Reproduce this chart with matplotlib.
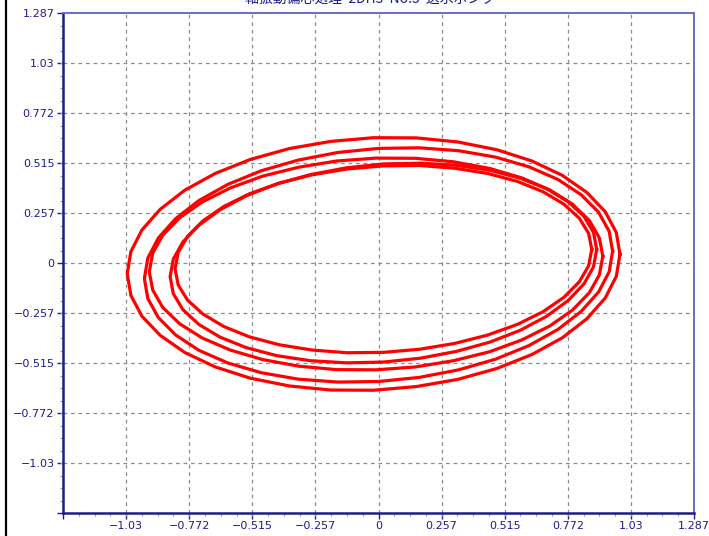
import numpy as np
import matplotlib
matplotlib.use("Agg")
import matplotlib.pyplot as plt
from matplotlib.ticker import FixedLocator

# orbit loops (x, y in the chart's units), 36 points each
loop1_x = [0.985, 0.970, 0.925, 0.850, 0.750, 0.626, 0.483, 0.324, 0.155, -0.020, -0.195, -0.364,
           -0.523, -0.666, -0.790, -0.890, -0.965, -1.010, -1.025, -1.010, -0.965, -0.890, -0.790,
           -0.666, -0.523, -0.364, -0.195, -0.020, 0.155, 0.324, 0.483, 0.626, 0.750, 0.850, 0.925, 0.970]
loop1_y = [0.045, 0.157, 0.264, 0.363, 0.451, 0.525, 0.583, 0.623, 0.644, 0.645, 0.626, 0.589,
           0.533, 0.461, 0.375, 0.277, 0.170, 0.059, -0.055, -0.167, -0.274, -0.373, -0.461,
           -0.535, -0.593, -0.633, -0.654, -0.655, -0.636, -0.599, -0.543, -0.471, -0.385, -0.287, -0.180, -0.069]

loop2_x = [0.955, 0.941, 0.898, 0.827, 0.732, 0.614, 0.478, 0.327, 0.166, 0.000, -0.166, -0.327,
           -0.478, -0.614, -0.732, -0.827, -0.898, -0.941, -0.955, -0.941, -0.898, -0.827, -0.732,
           -0.614, -0.478, -0.327, -0.166, 0.000, 0.166, 0.327, 0.478, 0.614, 0.732, 0.827, 0.898, 0.941]
loop2_y = [0.060, 0.163, 0.261, 0.351, 0.430, 0.495, 0.545, 0.578, 0.593, 0.590, 0.569, 0.530,
           0.475, 0.405, 0.322, 0.229, 0.129, 0.025, -0.080, -0.183, -0.281, -0.371, -0.450,
           -0.515, -0.565, -0.598, -0.613, -0.610, -0.589, -0.550, -0.495, -0.425, -0.342, -0.249, -0.149, -0.045]

loop3_x = [0.915, 0.901, 0.860, 0.791, 0.699, 0.585, 0.453, 0.306, 0.151, -0.010, -0.171, -0.326,
           -0.473, -0.605, -0.719, -0.811, -0.880, -0.921, -0.935, -0.921, -0.880, -0.811, -0.719,
           -0.605, -0.473, -0.326, -0.171, -0.010, 0.151, 0.306, 0.453, 0.585, 0.699, 0.791, 0.860, 0.901]
loop3_y = [0.035, 0.129, 0.219, 0.303, 0.376, 0.438, 0.487, 0.521, 0.539, 0.540, 0.525, 0.493,
           0.447, 0.386, 0.314, 0.233, 0.143, 0.051, -0.045, -0.139, -0.229, -0.313, -0.386,
           -0.448, -0.497, -0.531, -0.549, -0.550, -0.535, -0.503, -0.457, -0.396, -0.324, -0.243, -0.153, -0.061]

loop4_x = [0.890, 0.877, 0.838, 0.773, 0.686, 0.579, 0.455, 0.318, 0.171, 0.020, -0.131, -0.278,
           -0.415, -0.539, -0.646, -0.733, -0.798, -0.837, -0.850, -0.837, -0.798, -0.733, -0.646,
           -0.539, -0.415, -0.278, -0.131, 0.020, 0.171, 0.318, 0.455, 0.579, 0.686, 0.773, 0.838, 0.877]
loop4_y = [0.070, 0.158, 0.240, 0.316, 0.382, 0.436, 0.477, 0.503, 0.514, 0.510, 0.490, 0.455,
           0.407, 0.346, 0.274, 0.194, 0.108, 0.020, -0.070, -0.158, -0.240, -0.316, -0.382,
           -0.436, -0.477, -0.503, -0.514, -0.510, -0.490, -0.455, -0.407, -0.346, -0.274, -0.194, -0.108, -0.020]

loop5_x = [0.870, 0.857, 0.819, 0.756, 0.671, 0.567, 0.445, 0.311, 0.168, 0.020, -0.128, -0.271,
           -0.405, -0.527, -0.631, -0.716, -0.779, -0.817, -0.830, -0.817, -0.779, -0.716, -0.631,
           -0.527, -0.405, -0.271, -0.128, 0.020, 0.168, 0.311, 0.445, 0.567, 0.671, 0.756, 0.819, 0.857]
loop5_y = [0.070, 0.153, 0.231, 0.303, 0.367, 0.420, 0.461, 0.488, 0.502, 0.500, 0.484, 0.454,
           0.411, 0.356, 0.291, 0.217, 0.137, 0.055, -0.030, -0.113, -0.191, -0.263, -0.327,
           -0.380, -0.421, -0.448, -0.462, -0.460, -0.444, -0.414, -0.371, -0.316, -0.251, -0.177, -0.097, -0.015]

loops = [(loop1_x, loop1_y), (loop2_x, loop2_y), (loop3_x, loop3_y),
         (loop4_x, loop4_y), (loop5_x, loop5_y)]

ticks = [-1.287, -1.03, -0.772, -0.515, -0.257, 0, 0.257, 0.515, 0.772, 1.03, 1.287]
tick_labels = ["", "\u22121.03", "\u22120.772", "\u22120.515", "\u22120.257", "0",
               "0.257", "0.515", "0.772", "1.03", "1.287"]
title = "軸振動偏心処理  2DH3  No.3  送水ポンプ"

navy = "#1c1c8c"

fig = plt.figure(figsize=(7.09, 5.36), dpi=100)
ax = fig.add_axes([63 / 709, 23 / 536, 631 / 709, 500 / 536])

for lx, ly in loops:
    ax.plot(lx + lx[:1], ly + ly[:1], color="#ff0000", lw=2.3, solid_joinstyle="round")

ax.set_xlim(-1.287, 1.287)
ax.set_ylim(-1.287, 1.287)
ax.set_xticks(ticks)
ax.set_yticks(ticks)
ax.set_xticklabels(tick_labels)
ax.set_yticklabels(tick_labels)
minor = np.linspace(-1.287, 1.287, 41)
ax.xaxis.set_minor_locator(FixedLocator(minor))
ax.yaxis.set_minor_locator(FixedLocator(minor))

ax.tick_params(which="major", direction="out", length=4, width=1, color=navy,
               labelcolor=navy, labelsize=8, pad=2)
ax.tick_params(which="minor", direction="out", length=2, width=0.8, color="#9a9a9a")

for t in ticks[1:-1]:
    ax.axvline(t, color="#8c8c8c", lw=0.9, ls=(0, (3, 3)), zorder=0)
    ax.axhline(t, color="#8c8c8c", lw=0.9, ls=(0, (3, 3)), zorder=0)

ax.spines["left"].set_color(navy)
ax.spines["bottom"].set_color(navy)
ax.spines["left"].set_linewidth(1.8)
ax.spines["bottom"].set_linewidth(1.8)
ax.spines["top"].set_color("#6b6bc8")
ax.spines["right"].set_color("#6b6bc8")
ax.spines["top"].set_linewidth(1.4)
ax.spines["right"].set_linewidth(1.4)

# window frame line on the left edge
fig.add_artist(plt.Line2D([6 / 709, 6 / 709], [0, 1], color="black", lw=1.6))

# title sits mostly above the top edge, as in the reference
fig.text(370 / 709, 1 - 3 / 536, title, ha="center", va="baseline", fontsize=10,
         color=navy, family=["Noto Sans CJK JP", "DejaVu Sans"])

fig.savefig("out.png", dpi=100)
